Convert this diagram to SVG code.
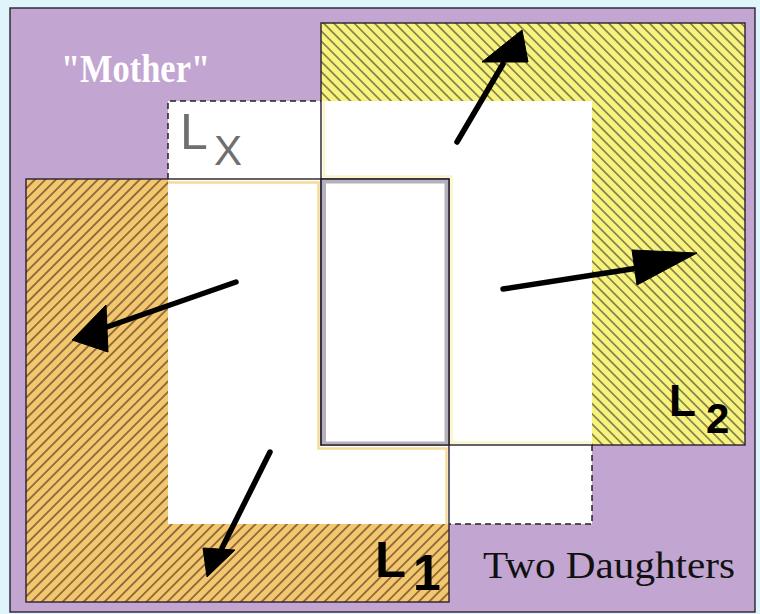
<svg xmlns="http://www.w3.org/2000/svg" width="760" height="614" viewBox="0 0 760 614">
<style>
.box{stroke:#2a2030;stroke-width:1.4;}
.shaft{stroke:#000;stroke-width:5.5;stroke-linecap:round;fill:none;}
.head{fill:#000;stroke:#000;stroke-width:1;stroke-linejoin:round;}
.lab{font-family:"Liberation Sans",Arial,sans-serif;font-weight:bold;fill:#000;}
.glowO{stroke:#f4dc98;stroke-width:2.5;fill:none;}
.glowY{stroke:#fbf6c8;stroke-width:2.5;fill:none;}
</style>
<defs>
<pattern id="hatchL1" patternUnits="userSpaceOnUse" width="7.4" height="7.4" patternTransform="rotate(-45)">
<rect width="7.4" height="7.4" fill="#f2c76e"/>
<line x1="0" y1="3.7" x2="7.4" y2="3.7" stroke="#4a2a1a" stroke-width="1.1"/>
</pattern>
<pattern id="hatchL2" patternUnits="userSpaceOnUse" width="7.2" height="7.2" patternTransform="rotate(45)">
<rect width="7.2" height="7.2" fill="#f8f27e"/>
<line x1="0" y1="3.6" x2="7.2" y2="3.6" stroke="#3a3a2a" stroke-width="1.05"/>
</pattern>
</defs>
<rect x="0" y="0" width="760" height="614" fill="#dff4fb"/>
<g id="mother">
<rect x="10" y="8" width="745" height="604" fill="#c2a5d1" class="box"/>
<text x="61" y="82" font-family="'Liberation Serif','Times New Roman',serif" font-weight="bold" font-size="40" fill="#ffffff" textLength="149" lengthAdjust="spacingAndGlyphs">"Mother"</text>
</g>
<g id="L1-fill"><rect x="26" y="179" width="423" height="423" fill="url(#hatchL1)"/></g>
<g id="L2-fill"><rect x="321" y="23" width="424" height="422" fill="url(#hatchL2)"/></g>
<g id="Lx">
<rect x="168" y="101" width="424" height="423" fill="#ffffff"/>
<path d="M168,179 V101 H321 M592,445 V524 H449" fill="none" stroke="#222" stroke-width="1.5" stroke-dasharray="6,4"/>
<text x="180" y="149" font-family="'Liberation Sans',Arial,sans-serif" font-size="50" fill="#6f6f6f">L</text>
<text x="214" y="165" font-family="'Liberation Sans',Arial,sans-serif" font-size="42" fill="#6f6f6f">X</text>
</g>
<g id="glows">
<path class="glowO" d="M168,182.5 H318.5 V448.5 H449"/>
<path class="glowO" d="M446.5,449 V524"/>
<path class="glowY" d="M324,101 V176.5 H451.5 V442.5 H592"/>
</g>
<g id="L1">
<rect x="26" y="179" width="423" height="423" fill="none" class="box"/>
<text class="lab" x="375" y="577" font-size="50" textLength="31" lengthAdjust="spacingAndGlyphs">L</text>
<text class="lab" x="413" y="590" font-size="50">1</text>
</g>
<g id="L2">
<rect x="321" y="23" width="424" height="422" fill="none" class="box"/>
<text class="lab" x="669" y="416" font-size="44">L</text>
<text class="lab" x="706" y="433" font-size="42">2</text>
</g>
<g id="overlap">
<rect x="324" y="181.5" width="122.5" height="262" fill="#ffffff" stroke="#b4b0bc" stroke-width="4"/>
<rect x="321" y="179" width="128" height="266" fill="none" stroke="#2a2030" stroke-width="1.4"/>
</g>
<text x="483" y="578" font-family="'Liberation Serif','Times New Roman',serif" font-size="38" fill="#111" textLength="252" lengthAdjust="spacingAndGlyphs">Two Daughters</text>
<g id="connectors">
<line class="shaft" x1="457" y1="142" x2="503" y2="64"/>
<polygon class="head" points="522,30 528,62 482,62"/>
<line class="shaft" x1="503" y1="289" x2="638" y2="268"/>
<polygon class="head" points="697,253 632,250 637,285"/>
<line class="shaft" x1="236" y1="282" x2="104" y2="328"/>
<polygon class="head" points="72,340 106,305 108,352"/>
<line class="shaft" x1="270" y1="452" x2="222" y2="548"/>
<polygon class="head" points="207,577 203,548 235,550"/>
</g>
</svg>
